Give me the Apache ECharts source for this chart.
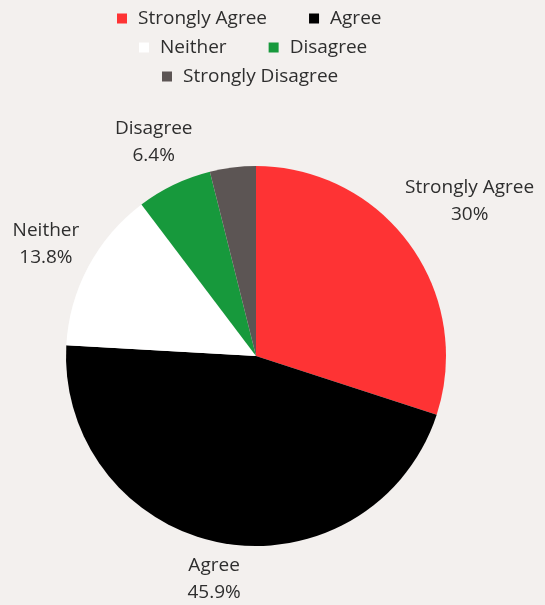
<!DOCTYPE html>
<html>
<head>
<meta charset="utf-8">
<script src="https://cdn.jsdelivr.net/npm/echarts@6/dist/echarts.min.js"></script>
<style>
  html, body { margin: 0; padding: 0; background: #f3f0ee; }
  #chart { width: 545px; height: 605px; }
</style>
</head>
<body>
<div id="chart"></div>
<script>
// Survey responses, share of respondents (%)
const categories = ['Strongly Agree', 'Agree', 'Neither', 'Disagree', 'Strongly Disagree'];
const shares = [30, 45.9, 13.8, 6.4, 3.9];
const sliceColors = ['#fe3334', '#000000', '#ffffff', '#17993c', '#5c5554'];
const labelledSlices = [true, true, true, true, false];

// Legend rows, one per line
const legendRows = [
  ['Strongly Agree', 'Agree'],
  ['Neither', 'Disagree'],
  ['Strongly Disagree']
];
const legendLefts = [117, 139, 162];
const legendTops = [9, 38, 67];

const fontFamily = '"Open Sans", Lato, sans-serif';
const textColor = '#2e2e2e';

const chart = echarts.init(document.getElementById('chart'), null, { renderer: 'canvas' });

const data = categories.map((name, i) => ({
  name: name,
  value: shares[i],
  itemStyle: { color: sliceColors[i] },
  label: { show: labelledSlices[i] }
}));

// Push each label out along its slice's mid-angle until the box clears the rim
function placeLabel(params) {
  const pts = params.labelLinePoints;
  if (!pts || pts.length < 2) return {};
  let ux = pts[1][0] - pts[0][0];
  let uy = pts[1][1] - pts[0][1];
  const len = Math.hypot(ux, uy) || 1;
  ux /= len; uy /= len;
  const gap = 6;
  const w = params.labelRect.width, h = params.labelRect.height;
  const t = gap + Math.abs(ux) * w / 2 + Math.abs(uy) * h / 2;
  return {
    x: pts[0][0] + ux * t,
    y: pts[0][1] + uy * t,
    align: 'center',
    verticalAlign: 'middle'
  };
}

chart.setOption({
  backgroundColor: '#f3f0ee',
  animation: false,
  legend: legendRows.map((row, i) => ({
    data: row,
    top: legendTops[i],
    left: legendLefts[i],
    padding: 0,
    orient: 'horizontal',
    icon: 'rect',
    itemWidth: 10,
    itemHeight: 10,
    itemGap: 42,
    selectedMode: false,
    textStyle: {
      color: textColor,
      fontFamily: fontFamily,
      fontSize: 19,
      padding: [0, 0, 0, 6]
    }
  })),
  series: [{
    type: 'pie',
    center: [256, 356],
    radius: 190,
    startAngle: 90,
    clockwise: true,
    avoidLabelOverlap: false,
    data: data,
    label: {
      show: true,
      position: 'outside',
      formatter: p => p.name + '\n' + p.value + '%',
      color: textColor,
      fontFamily: fontFamily,
      fontSize: 19,
      lineHeight: 27,
      align: 'center'
    },
    labelLine: {
      show: true,
      length: 10,
      length2: 0,
      lineStyle: { opacity: 0 }
    },
    labelLayout: placeLabel,
    emphasis: { disabled: true }
  }]
});
</script>
</body>
</html>
